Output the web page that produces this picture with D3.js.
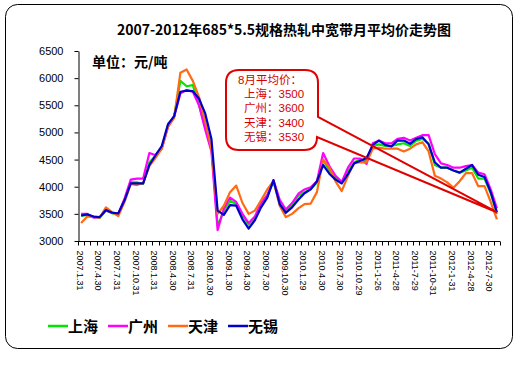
<!DOCTYPE html>
<html>
<head>
<meta charset="utf-8">
<script src="https://cdn.jsdelivr.net/npm/d3@7"></script>
<style>
  body { margin: 0; background: #fff; }
  svg text { font-family: "Liberation Sans", Arial, sans-serif; }
  .cjk { font-family: "Noto Sans CJK SC", sans-serif; }
  .note { font-family: "Liberation Sans", "Noto Sans CJK SC", sans-serif; }
</style>
</head>
<body>
<svg id="chart" width="531" height="384"></svg>
<script>
// month-end labels, one every 3 months
var tickLabels = ['2007.1.31', '2007.4.30', '2007.7.31', '2007.10.31', '2008.1.31', '2008.4.30',
  '2008.7.31', '2008.10.30', '2009.1.30', '2009.4.30', '2009.7.30', '2009.10.30', '2010.1.29',
  '2010.4.30', '2010.7.30', '2010.10.29', '2011-1-26', '2011-4-28', '2011-7-29', '2011-10-31',
  '2012-1-31', '2012-4-28', '2012-7-30'];

// monthly averages, Jan 2007 .. Aug 2012 (68 months)
var shanghai = [3460, 3480, 3440, 3430, 3560, 3510, 3500, 3760, 4080, 4080, 4050, 4450,
  4570, 4720, 5130, 5300, 5950, 5850, 5870, 5500, 5100, 4750, 3280, 3560,
  3740, 3680, 3470, 3300, 3420, 3650, 3820, 4100, 3720, 3560, 3660, 3830,
  3900, 3960, 4080, 4500, 4300, 4170, 4080, 4280, 4450, 4500, 4480, 4750,
  4780, 4750, 4750, 4780, 4800, 4750, 4850, 4880, 4800, 4400, 4350, 4350,
  4300, 4260, 4300, 4350, 4150, 4150, 3880, 3500];
var guangzhou = [3500, 3500, 3430, 3440, 3560, 3530, 3500, 3780, 4130, 4150, 4150, 4620,
  4580, 4700, 5100, 5300, 5720, 5780, 5750, 5500, 5050, 4650, 3200, 3600,
  3800, 3720, 3500, 3330, 3450, 3700, 3850, 4120, 3760, 3580, 3700, 3870,
  3950, 3990, 4100, 4620, 4380, 4200, 4090, 4350, 4520, 4520, 4420, 4800,
  4850, 4800, 4800, 4880, 4900, 4850, 4900, 4950, 4950, 4600, 4430, 4400,
  4350, 4350, 4380, 4400, 4260, 4230, 3950, 3600];
var tianjin = [3330, 3450, 3450, 3430, 3620, 3530, 3460, 3720, 4050, 4030, 4070, 4380,
  4530, 4700, 5100, 5270, 6100, 6160, 5950, 5650, 5200, 4700, 3500, 3650,
  3900, 4020, 3700, 3500, 3560, 3750, 3950, 4100, 3650, 3440, 3500, 3600,
  3680, 3690, 3900, 4500, 4350, 4100, 3920, 4200, 4450, 4450, 4450, 4700,
  4720, 4700, 4700, 4700, 4650, 4700, 4780, 4820, 4650, 4200, 4150, 4080,
  3980, 4100, 4250, 4250, 4010, 4010, 3720, 3400];
var wuxi = [3470, 3490, 3450, 3440, 3570, 3520, 3510, 3750, 4060, 4060, 4060, 4400,
  4580, 4750, 5150, 5300, 5750, 5770, 5760, 5620, 5350, 4880, 3560, 3480,
  3660, 3650, 3400, 3230, 3380, 3620, 3800, 4120, 3680, 3520, 3620, 3760,
  3880, 3950, 4100, 4400, 4240, 4130, 4060, 4230, 4430, 4480, 4530, 4770,
  4850, 4770, 4740, 4850, 4850, 4790, 4880, 4910, 4780, 4450, 4350, 4350,
  4300, 4260, 4330, 4400, 4220, 4180, 3900, 3530];

var seriesNames = ['上海', '广州', '天津', '无锡'];
var seriesColors = ['#00e600', '#ff00ff', '#ff6a13', '#0000cc'];
var yTicks = [3000, 3500, 4000, 4500, 5000, 5500, 6000, 6500];
var noteLines = ['8月平均价：', '上海：3500', '广州：3600', '天津：3400', '无锡：3530'];

var svg = d3.select('#chart');

// outer frame
svg.append('rect')
  .attr('x', 5.5).attr('y', 4.5)
  .attr('width', 507).attr('height', 344)
  .attr('rx', 12).attr('ry', 12)
  .attr('fill', '#fff').attr('stroke', '#000');

svg.append('text')
  .attr('class', 'cjk')
  .attr('x', 284).attr('y', 35)
  .attr('text-anchor', 'middle')
  .attr('font-size', 14).attr('font-weight', 'bold')
  .text('2007-2012年685*5.5规格热轧中宽带月平均价走势图');

var x = d3.scaleBand().domain(d3.range(wuxi.length)).range([78, 500]);
var y = d3.scaleLinear().domain([3000, 6500]).range([241, 51]);
function cx(i) { return x(i) + x.bandwidth() / 2; }

// y axis
var yAxis = svg.append('g')
  .attr('transform', 'translate(78.5,0)')
  .call(d3.axisLeft(y).tickValues(yTicks).tickFormat(d3.format('d'))
    .tickSize(4).tickPadding(11).tickSizeOuter(0));
yAxis.selectAll('text').attr('font-size', 11).attr('font-family', '"Liberation Sans", Arial, sans-serif');
yAxis.selectAll('path, line').attr('stroke', '#000');

// x axis: tick at every category boundary
var xAxis = svg.append('g').attr('transform', 'translate(0,241.5)');
xAxis.append('line')
  .attr('x1', 78).attr('x2', 500)
  .attr('stroke', '#000');
xAxis.selectAll('.tick')
  .data(d3.range(wuxi.length + 1))
  .enter().append('line')
  .attr('class', 'tick')
  .attr('x1', function(i){ return Math.round(78 + i * x.step()) + 0.5; })
  .attr('x2', function(i){ return Math.round(78 + i * x.step()) + 0.5; })
  .attr('y1', 0).attr('y2', 4)
  .attr('stroke', '#000');
xAxis.selectAll('.lbl')
  .data(tickLabels)
  .enter().append('text')
  .attr('class', 'lbl')
  .attr('font-family', '"Liberation Mono", "DejaVu Sans Mono", monospace')
  .attr('font-size', 9)
  .attr('dominant-baseline', 'middle')
  .attr('transform', function(d, k){ return 'translate(' + (cx(k * 3) - 2) + ',9) rotate(90)'; })
  .text(function(d){ return d; });

svg.append('text')
  .attr('class', 'cjk')
  .attr('x', 92).attr('y', 67)
  .attr('font-size', 14).attr('font-weight', 'bold')
  .text('单位：元/吨');

// series lines
var line = d3.line()
  .x(function(d, i){ return cx(i); })
  .y(function(d){ return y(d); });

[shanghai, guangzhou, tianjin, wuxi].forEach(function(vals, s) {
  svg.append('path')
    .datum(vals)
    .attr('d', line)
    .attr('fill', 'none')
    .attr('stroke', seriesColors[s])
    .attr('stroke-width', 2.2)
    .attr('stroke-linejoin', 'round');
});

// callout bubble pointing at the last month
var tip = [cx(wuxi.length - 1), y(3530)];
var bubble = 'M239,70 L305,70 Q318,70 318,83 L318,117 L' + tip[0] + ',' + tip[1] +
  ' L317,137 Q317,150 304,150 L239,150 Q226,150 226,137 L226,83 Q226,70 239,70 Z';
svg.append('path')
  .attr('d', bubble)
  .attr('fill', 'none')
  .attr('stroke', '#e00000')
  .attr('stroke-width', 2);

svg.selectAll('.note')
  .data(noteLines)
  .enter().append('text')
  .attr('class', 'note')
  .attr('x', function(d, i){ return i === 0 ? 238 : 244; })
  .attr('y', function(d, i){ return 84 + i * 14.2; })
  .attr('font-size', 11.5)
  .attr('fill', '#d40000')
  .text(function(d){ return d; });

// legend
var legend = svg.selectAll('.leg')
  .data(seriesNames)
  .enter().append('g')
  .attr('class', 'leg')
  .attr('transform', function(d, i){ return 'translate(' + (48 + i * 60) + ',326)'; });
legend.append('line')
  .attr('x1', 0).attr('x2', 20)
  .attr('stroke', function(d, i){ return seriesColors[i]; })
  .attr('stroke-width', 2.5);
legend.append('text')
  .attr('class', 'cjk')
  .attr('x', 20).attr('y', 6)
  .attr('font-size', 15).attr('font-weight', 'bold')
  .text(function(d){ return d; });
</script>
</body>
</html>
